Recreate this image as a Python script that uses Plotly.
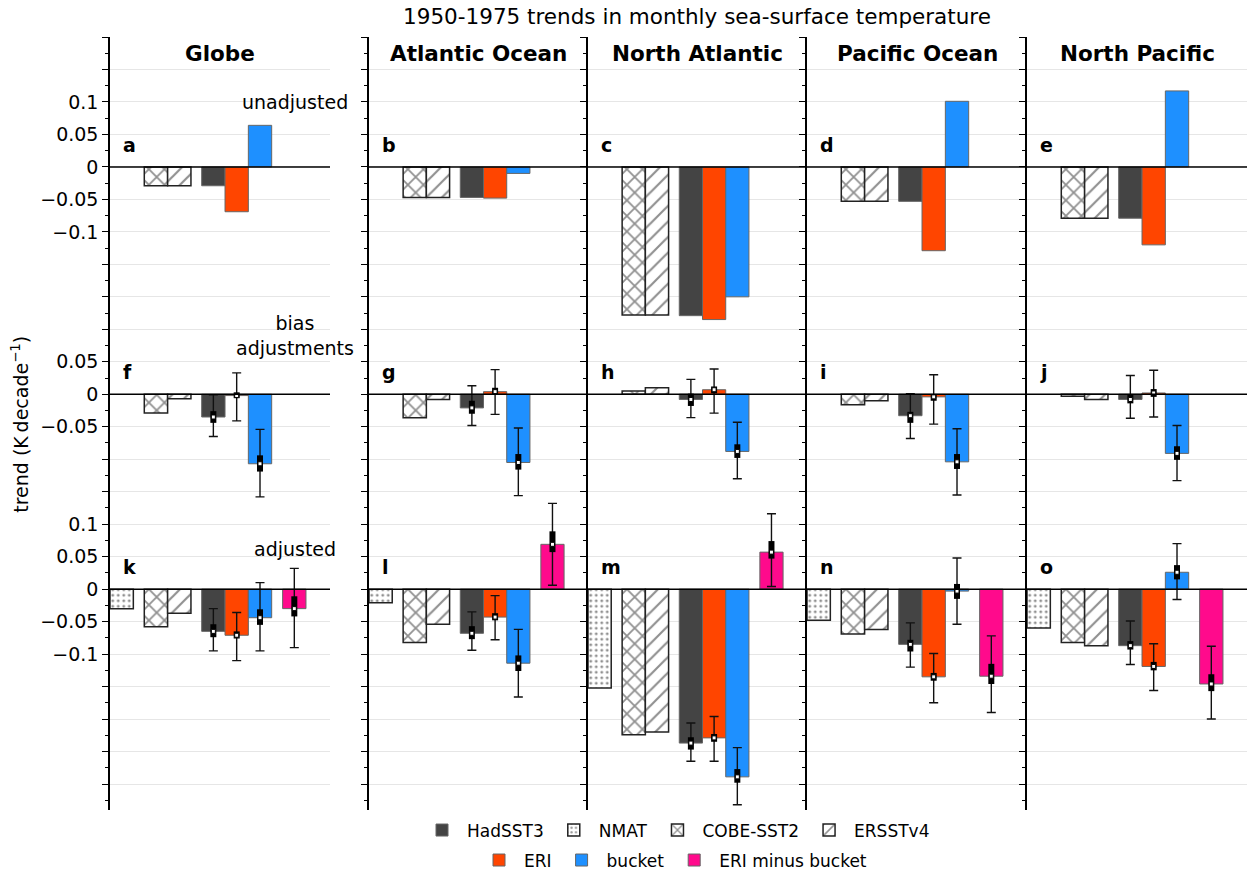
import plotly.graph_objects as go

# ---------------- DATA ----------------
regions = ["Globe", "Atlantic Ocean", "North Atlantic", "Pacific Ocean", "North Pacific"]
panel_letters = [["a", "b", "c", "d", "e"],
                 ["f", "g", "h", "i", "j"],
                 ["k", "l", "m", "n", "o"]]
row_labels = ["unadjusted", "bias<br>adjustments", "adjusted"]

# row 1: unadjusted trends
cobe_unadj = [-0.029, -0.047, -0.228, -0.053, -0.079]
ersst_unadj = [-0.029, -0.047, -0.228, -0.053, -0.079]
had_unadj = [-0.029, -0.047, -0.229, -0.053, -0.079]
eri_unadj = [-0.069, -0.048, -0.235, -0.129, -0.120]
bucket_unadj = [0.064, -0.010, -0.200, 0.101, 0.117]

# row 2: bias adjustments
cobe_bias = [-0.029, -0.036, 0.005, -0.016, -0.003]
ersst_bias = [-0.007, -0.008, 0.010, -0.010, -0.008]
had_bias = [-0.035, -0.021, -0.008, -0.033, -0.008]
eri_bias = [-0.002, 0.004, 0.007, -0.004, 0.002]
bucket_bias = [-0.107, -0.105, -0.088, -0.104, -0.091]
# uncertainty ranges: [low, q1, q3, high]
had_bias_rng = [[-0.065, -0.044, -0.026, -0.001], [-0.048, -0.030, -0.010, 0.013],
                [-0.036, -0.018, 0.001, 0.023], [-0.068, -0.044, -0.027, 0.001],
                [-0.037, -0.014, 0.000, 0.029]]
eri_bias_rng = [[-0.041, -0.006, 0.003, 0.033], [-0.031, -0.001, 0.010, 0.038],
                [-0.029, 0.0015, 0.012, 0.039], [-0.046, -0.010, 0.000, 0.030],
                [-0.035, -0.004, 0.008, 0.037]]
bucket_bias_rng = [[-0.158, -0.119, -0.094, -0.054], [-0.156, -0.116, -0.092, -0.052],
                   [-0.130, -0.098, -0.077, -0.043], [-0.155, -0.115, -0.092, -0.053],
                   [-0.133, -0.101, -0.080, -0.048]]

# row 3: adjusted trends
nmat_adj = [-0.030, -0.021, -0.152, -0.048, -0.060]
cobe_adj = [-0.058, -0.082, -0.224, -0.069, -0.082]
ersst_adj = [-0.037, -0.054, -0.220, -0.062, -0.087]
had_adj = [-0.065, -0.068, -0.237, -0.085, -0.087]
eri_adj = [-0.071, -0.043, -0.229, -0.135, -0.119]
bucket_adj = [-0.044, -0.114, -0.289, -0.003, 0.026]
diff_adj = [-0.030, 0.069, 0.057, -0.134, -0.146]
had_adj_rng = [[-0.095, -0.074, -0.054, -0.030], [-0.094, -0.077, -0.057, -0.035],
               [-0.265, -0.247, -0.228, -0.206], [-0.120, -0.096, -0.078, -0.052],
               [-0.116, -0.093, -0.080, -0.049]]
eri_adj_rng = [[-0.110, -0.076, -0.065, -0.036], [-0.078, -0.048, -0.037, -0.010],
               [-0.265, -0.235, -0.223, -0.196], [-0.175, -0.141, -0.129, -0.099],
               [-0.156, -0.125, -0.112, -0.084]]
bucket_adj_rng = [[-0.095, -0.055, -0.031, 0.010], [-0.166, -0.126, -0.102, -0.062],
                  [-0.332, -0.298, -0.277, -0.244], [-0.054, -0.015, 0.008, 0.048],
                  [-0.016, 0.015, 0.037, 0.070]]
diff_adj_rng = [[-0.090, -0.042, -0.011, 0.032], [0.006, 0.057, 0.089, 0.132],
                [0.004, 0.047, 0.074, 0.116], [-0.190, -0.146, -0.115, -0.072],
                [-0.200, -0.157, -0.131, -0.088]]

# tick labels (values relative to each sub-panel's zero)
tick_labels_top = ["0.1", "0.05", "0", "\u22120.05", "\u22120.1"]
tick_labels_mid = ["0.05", "0", "\u22120.05"]
tick_labels_bot = ["0.1", "0.05", "0", "\u22120.05", "\u22120.1"]
tick_local_top = [0.1, 0.05, 0.0, -0.05, -0.1]
tick_local_mid = [0.05, 0.0, -0.05]
tick_local_bot = [0.1, 0.05, 0.0, -0.05, -0.1]

series = [
    ("HadSST3", [had_unadj, had_bias, had_adj], [None, had_bias_rng, had_adj_rng]),
    ("NMAT", [None, None, nmat_adj], [None, None, None]),
    ("COBE-SST2", [cobe_unadj, cobe_bias, cobe_adj], [None, None, None]),
    ("ERSSTv4", [ersst_unadj, ersst_bias, ersst_adj], [None, None, None]),
    ("ERI", [eri_unadj, eri_bias, eri_adj], [None, eri_bias_rng, eri_adj_rng]),
    ("bucket", [bucket_unadj, bucket_bias, bucket_adj], [None, bucket_bias_rng, bucket_adj_rng]),
    ("ERI minus bucket", [None, None, diff_adj], [None, None, diff_adj_rng]),
]

# ---------------- LAYOUT CONSTANTS ----------------
FONT = "DejaVu Sans"
W, H = 1250, 875
ML, MR, MT, MB = 110, 3, 37, 64.5
PW = W - ML - MR
PH = H - MT - MB
ROW_OFFSET = [0.0, -0.35, -0.65]
YRANGE = [-0.99, 0.2]
XRANGE = [-0.5, 8.93]
XPOS = {"NMAT": 0.0, "COBE-SST2": 1.47, "ERSSTv4": 2.47, "HadSST3": 3.93,
        "ERI": 4.93, "bucket": 5.93, "ERI minus bucket": 7.4}
COL_PX = [(110, 330), (369, 588), (588, 807), (807, 1027), (1027, 1247)]

def pxx(px):
    return (px - ML) / PW

def pxy(py):
    return (H - MB - py) / PH

hatch_line = dict(color="#222222", width=1.5)
color_line = dict(color="#666666", width=1)
STYLE = {
    "HadSST3": dict(color="#444444", line=color_line),
    "NMAT": dict(color="white", line=hatch_line,
                 pattern=dict(shape=".", fgcolor="#222222", bgcolor="white", size=5.5, solidity=0.22)),
    "COBE-SST2": dict(color="white", line=hatch_line,
                      pattern=dict(shape="x", fgcolor="#222222", bgcolor="white", size=11, solidity=0.3)),
    "ERSSTv4": dict(color="white", line=hatch_line,
                    pattern=dict(shape="/", fgcolor="#222222", bgcolor="white", size=11, solidity=0.2)),
    "ERI": dict(color="#FF4500", line=color_line),
    "bucket": dict(color="#1E90FF", line=color_line),
    "ERI minus bucket": dict(color="#FF0A8C", line=color_line),
}
LEGEND_OF = {"HadSST3": "legend", "NMAT": "legend", "COBE-SST2": "legend", "ERSSTv4": "legend",
             "ERI": "legend2", "bucket": "legend2", "ERI minus bucket": "legend2"}

fig = go.Figure()

for c in range(5):
    xa = "x" if c == 0 else f"x{c+1}"
    ya = "y" if c == 0 else f"y{c+1}"
    for name, rows, rngs in series:
        xs, ys, bases = [], [], []
        for r in range(3):
            if rows[r] is None:
                continue
            xs.append(XPOS[name])
            ys.append(rows[r][c])
            bases.append(ROW_OFFSET[r])
        fig.add_trace(go.Bar(
            x=xs, y=ys, base=bases, width=1, name=name,
            marker=STYLE[name], xaxis=xa, yaxis=ya,
            showlegend=(c == 0), legend=LEGEND_OF[name], legendgroup=name,
            hoverinfo="skip"))
    # uncertainty whiskers and boxes
    for name, rows, rngs in series:
        for r in range(3):
            if rngs[r] is None:
                continue
            med = rows[r][c]
            lo, q1, q3, hi = rngs[r][c]
            yv = ROW_OFFSET[r] + med
            fig.add_trace(go.Scatter(
                x=[XPOS[name]], y=[yv], mode="markers",
                marker=dict(size=1, color="rgba(0,0,0,0)"),
                error_y=dict(type="data", symmetric=False, array=[hi - med],
                             arrayminus=[med - lo], color="#111111", thickness=1.4, width=4.5),
                xaxis=xa, yaxis=ya, showlegend=False, hoverinfo="skip"))
            fig.add_trace(go.Scatter(
                x=[XPOS[name]], y=[yv], mode="markers",
                marker=dict(symbol="square", size=4, color="white",
                            line=dict(color="black", width=1)),
                error_y=dict(type="data", symmetric=False, array=[q3 - med],
                             arrayminus=[med - q1], color="black", thickness=6, width=0),
                xaxis=xa, yaxis=ya, showlegend=False, hoverinfo="skip"))

# axes
major_vals = [round(k * 0.05, 3) for k in range(-19, 5)]
label_map = {}
for vals, labs, off in [(tick_local_top, tick_labels_top, ROW_OFFSET[0]),
                        (tick_local_mid, tick_labels_mid, ROW_OFFSET[1]),
                        (tick_local_bot, tick_labels_bot, ROW_OFFSET[2])]:
    for v, lab in zip(vals, labs):
        label_map[round(v + off, 3)] = lab
major_text = [label_map.get(v, " ") for v in major_vals]

layout_axes = {}
for c in range(5):
    sx = "" if c == 0 else str(c + 1)
    x0, x1 = COL_PX[c]
    layout_axes[f"xaxis{sx}"] = dict(domain=[pxx(x0), pxx(x1)], range=XRANGE, visible=False,
                                     anchor=f"y{sx}", fixedrange=True)
    layout_axes[f"yaxis{sx}"] = dict(
        domain=[0, 1], range=YRANGE, anchor=f"x{sx}",
        tickmode="array", tickvals=major_vals, ticktext=major_text,
        showticklabels=(c == 0), ticks="outside", ticklen=6, tickwidth=1.3, tickcolor="black",
        tickfont=dict(size=19, color="black", family=FONT),
        showline=True, linecolor="black", linewidth=1.5,
        showgrid=True, gridcolor="#e6e6e6", gridwidth=1, zeroline=False,
        minor=dict(tickmode="linear", tick0=0, dtick=0.025, ticks="outside", ticklen=3.5,
                   tickwidth=1.3, tickcolor="black", showgrid=False),
        automargin=False, fixedrange=True)

shapes = []
annotations = []
for c in range(5):
    sx = "" if c == 0 else str(c + 1)
    for r in range(3):
        shapes.append(dict(type="line", xref=f"x{sx} domain", x0=0, x1=1,
                           yref=f"y{sx}", y0=ROW_OFFSET[r], y1=ROW_OFFSET[r],
                           line=dict(color="black", width=1.5), layer="above"))
        annotations.append(dict(xref=f"x{sx}", yref=f"y{sx}", x=-0.02, y=ROW_OFFSET[r] + 0.034,
                                text=f"<b>{panel_letters[r][c]}</b>", showarrow=False,
                                xanchor="left", yanchor="middle",
                                font=dict(size=19, color="black", family=FONT)))
    annotations.append(dict(xref=f"x{sx} domain", yref=f"y{sx}", x=0.5, y=0.175,
                            text=f"<b>{regions[c]}</b>", showarrow=False,
                            xanchor="center", yanchor="middle",
                            font=dict(size=21.5, color="black", family=FONT)))

row_label_y = [0.1, 0.09, 0.062]
for r in range(3):
    annotations.append(dict(xref="x", yref="y", x=XPOS["ERI minus bucket"] + 0.03,
                            y=ROW_OFFSET[r] + row_label_y[r], text=row_labels[r],
                            showarrow=False, xanchor="center", yanchor="middle", align="center",
                            font=dict(size=19, color="black", family=FONT)))

annotations.append(dict(xref="paper", yref="paper", x=pxx(20), y=pxy(425),
                        text="trend (K\u2009decade<sup>\u22121</sup>)", textangle=-90,
                        showarrow=False, xanchor="center", yanchor="middle",
                        font=dict(size=19, color="black", family=FONT)))

fig.update_layout(
    width=W, height=H,
    margin=dict(l=ML, r=MR, t=MT, b=MB, autoexpand=False),
    paper_bgcolor="white", plot_bgcolor="white",
    font=dict(family=FONT, size=19, color="black"),
    barmode="overlay",
    title=dict(text="1950-1975 trends in monthly sea-surface temperature",
               x=697 / W, xref="container", xanchor="center",
               y=1 - 16 / H, yref="container", yanchor="middle",
               font=dict(size=21.5, color="black", family=FONT)),
    legend=dict(orientation="h", x=pxx(676), xanchor="center", y=pxy(831), yanchor="middle",
                font=dict(size=17, color="black", family=FONT), bgcolor="rgba(0,0,0,0)",
                traceorder="normal", itemclick=False, itemdoubleclick=False, itemwidth=40),
    legend2=dict(orientation="h", x=pxx(673), xanchor="center", y=pxy(861), yanchor="middle",
                 font=dict(size=17, color="black", family=FONT), bgcolor="rgba(0,0,0,0)",
                 traceorder="normal", itemclick=False, itemdoubleclick=False, itemwidth=40),
    shapes=shapes,
    annotations=annotations,
    **layout_axes,
)

fig.write_html("out.html", config={"displayModeBar": False},
               post_script="document.body.style.margin='0px';document.body.style.padding='0px';")
